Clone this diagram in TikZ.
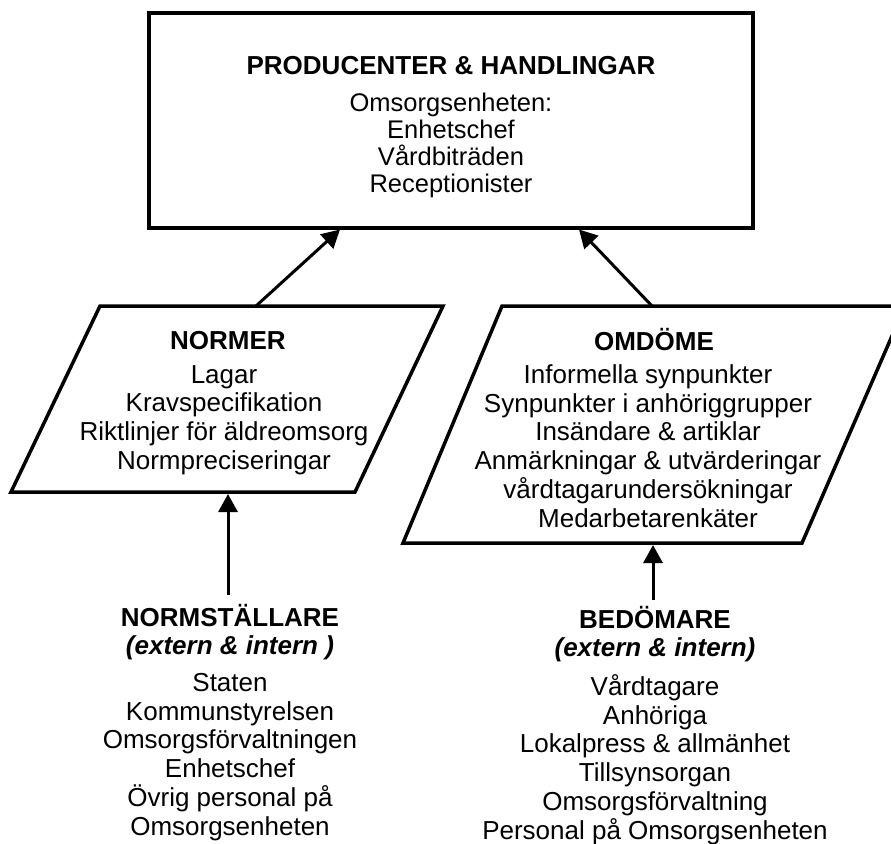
\documentclass[tikz,border=0pt]{standalone}
\usepackage{fontspec}
\setmainfont{Liberation Sans}
\usetikzlibrary{arrows.meta}
\begin{document}
\begin{tikzpicture}[x=1pt,y=-1pt,
  frame/.style={line width=3.5pt,line join=miter},
  link/.style={line width=3pt,-{Triangle[length=18pt,width=19pt]}},
  txt/.style={align=center,inner sep=0pt,font=\fontsize{26}{28.8}\selectfont},
  tight/.style={align=center,inner sep=0pt,font=\fontsize{25.5}{27}\selectfont},
  head/.style={align=center,inner sep=0pt,font=\fontsize{26}{28.8}\selectfont\bfseries},
  twohead/.style={align=center,inner sep=0pt,font=\fontsize{26}{27.5}\selectfont\bfseries},
]
\useasboundingbox (0,0) rectangle (891,843);
\clip (0,0) rectangle (891,843);

% producers and actions
\node[frame,draw,minimum width=604pt,minimum height=215pt,inner sep=0pt] (prod) at (451,120.5) {};
\node[head] (prodtitle) at (451,66) {PRODUCENTER \& HANDLINGAR};
\node[tight] (prodlist) at (451,145) {Omsorgsenheten:\\Enhetschef\\Vårdbiträden\\Receptionister};

% norms
\coordinate (nTL) at (100,306);
\coordinate (nTR) at (443,306);
\coordinate (nBR) at (355,492);
\coordinate (nBL) at (11,492);
\draw[frame] (nTL) -- (nTR) -- (nBR) -- (nBL) -- cycle;
\node[head] (normtitle) at (228,341) {NORMER};
\node[txt] (normlist) at (224,420) {Lagar\\Kravspecifikation\\Riktlinjer för äldreomsorg\\Normpreciseringar};

% reputation
\coordinate (oTL) at (502,306);
\coordinate (oTR) at (905,306);
\coordinate (oBR) at (802,543);
\coordinate (oBL) at (403,543);
\draw[frame] (oTL) -- (oTR) -- (oBR) -- (oBL) -- cycle;
\node[head] (omdtitle) at (654,340) {OMDÖME};
\node[txt] (omdlist) at (648,446) {Informella synpunkter\\Synpunkter i anhöriggrupper\\Insändare \& artiklar\\Anmärkningar \& utvärderingar\\vårdtagarundersökningar\\Medarbetarenkäter};

% norm setters
\node[twohead] (nsttitle) at (230,632) {NORMSTÄLLARE\\\itshape (extern \& intern )};
\node[txt] (nstlist) at (230,757) {Staten\\Kommunstyrelsen\\Omsorgsförvaltningen\\Enhetschef\\Övrig personal på\\Omsorgsenheten};

% assessors
\node[twohead] (bedtitle) at (655,634) {BEDÖMARE\\\itshape (extern \& intern)};
\node[txt] (bedlist) at (655,759.5) {Vårdtagare\\Anhöriga\\Lokalpress \& allmänhet\\Tillsynsorgan\\Omsorgsförvaltning\\Personal på Omsorgsenheten};

% connector end points
\coordinate (nOut) at (256,306);
\coordinate (pInL) at (340,229.5);
\coordinate (oOut) at (652,306);
\coordinate (pInR) at (579,229.5);
\coordinate (nstOut) at (228,595);
\coordinate (nIn) at (228,494);
\coordinate (bedOut) at (653,600);
\coordinate (oIn) at (653,545);

\draw[link] (nOut) -- (pInL);
\draw[link] (oOut) -- (pInR);
\draw[link] (nstOut) -- (nIn);
\draw[link] (bedOut) -- (oIn);
\end{tikzpicture}
\end{document}
